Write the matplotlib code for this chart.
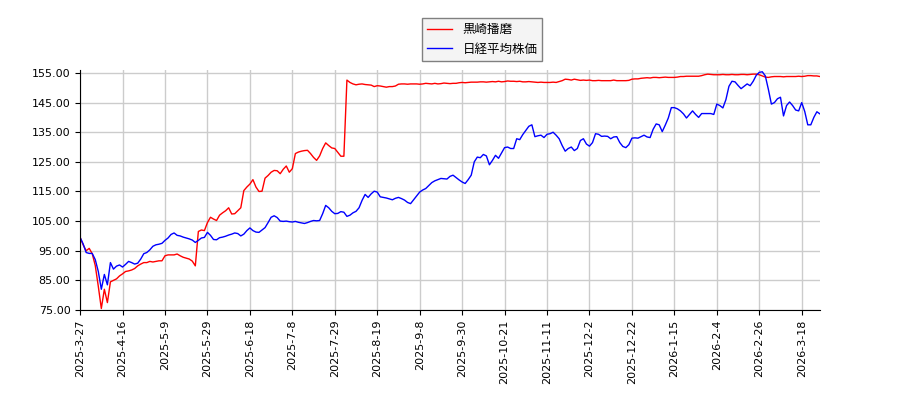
import numpy as np
import matplotlib
matplotlib.use("Agg")
import matplotlib.pyplot as plt

plt.rcParams['font.family'] = ['DejaVu Sans', 'Noto Sans CJK JP']

# 黒崎播磨 (daily, indexed by trading day)
kurosaki = [
    99.5, 97.0, 95.0, 95.8, 94.0, 90.0, 83.0, 75.5, 82.0, 77.5,
    84.5, 85.0, 85.5, 86.5, 87.2, 88.0, 88.2, 88.5, 89.0, 89.9,
    90.5, 91.0, 91.0, 91.4, 91.2, 91.4, 91.6, 91.6, 93.3, 93.6,
    93.6, 93.6, 93.9, 93.3, 92.8, 92.5, 92.2, 91.5, 89.9, 101.5,
    102.0, 101.8, 104.5, 106.3, 105.7, 105.2, 107.0, 107.8, 108.5, 109.5,
    107.4, 107.5, 108.5, 109.5, 115.3, 116.5, 117.5, 119.0, 116.5, 115.0,
    115.1, 119.5, 120.4, 121.5, 122.1, 122.0, 121.0, 122.5, 123.6, 121.5,
    122.7, 127.8, 128.3, 128.6, 128.8, 128.9, 127.8, 126.5, 125.5, 127.0,
    129.5, 131.4, 130.5, 129.7, 129.5, 128.2, 126.9, 126.9, 152.6, 151.8,
    151.3, 151.0, 151.2, 151.3, 151.1, 151.0, 150.9, 150.4, 150.7, 150.6,
    150.4, 150.2, 150.4, 150.4, 150.6, 151.2, 151.3, 151.3, 151.2, 151.3,
    151.3, 151.3, 151.2, 151.3, 151.5, 151.4, 151.3, 151.5, 151.3, 151.4,
    151.6, 151.5, 151.4, 151.5, 151.5, 151.7, 151.8, 151.7, 151.8, 151.9,
    151.9, 151.9, 152.0, 152.0, 151.9, 152.0, 152.1, 152.0, 152.2, 152.0,
    152.1, 152.3, 152.2, 152.2, 152.1, 152.2, 152.0, 152.0, 152.1, 152.0,
    151.9, 151.8, 151.9, 151.8, 151.8, 151.8, 151.9, 151.8, 152.1, 152.4,
    152.9, 152.8, 152.6, 152.9, 152.7, 152.5, 152.6, 152.5, 152.6, 152.4,
    152.4, 152.5, 152.4, 152.4, 152.4, 152.4, 152.6, 152.4, 152.4, 152.4,
    152.4, 152.5, 152.9, 153.0, 153.0, 153.2, 153.3, 153.4, 153.3, 153.5,
    153.5, 153.4, 153.5, 153.6, 153.5, 153.5, 153.5, 153.6, 153.8, 153.8,
    153.9, 153.9, 153.9, 153.9, 153.9, 154.1, 154.4, 154.6, 154.5, 154.4,
    154.4, 154.4, 154.5, 154.4, 154.4, 154.5, 154.4, 154.4, 154.5, 154.5,
    154.4, 154.5, 154.6, 154.6, 154.4, 154.0, 153.6, 153.5, 153.7, 153.8,
    153.8, 153.8, 153.7, 153.8, 153.8, 153.8, 153.8, 153.9, 153.8, 153.9,
    154.1, 154.1, 154.0, 154.0, 153.8,
]

# 日経平均株価
nikkei = [
    99.5, 97.3, 94.4, 94.1, 94.1, 92.0, 88.0, 82.0, 87.0, 83.5,
    91.0, 88.8, 89.8, 90.2, 89.5, 90.4, 91.4, 91.0, 90.5, 90.8,
    92.2, 94.0, 94.4, 95.3, 96.5, 97.0, 97.2, 97.5, 98.5, 99.3,
    100.5, 101.0, 100.2, 100.0, 99.6, 99.3, 99.0, 98.6, 97.8, 98.5,
    99.3, 99.5, 101.2, 100.2, 98.8, 98.7, 99.4, 99.6, 99.9, 100.3,
    100.6, 101.0, 100.8, 100.0, 100.6, 101.8, 102.7, 101.8, 101.3, 101.2,
    102.0, 102.8, 104.5, 106.3, 106.8, 106.2, 105.0, 104.9, 105.0, 104.8,
    104.7, 104.9, 104.6, 104.4, 104.2, 104.5, 104.9, 105.2, 105.1, 105.2,
    107.5, 110.3, 109.5, 108.3, 107.5, 107.6, 108.2, 108.0, 106.6, 107.0,
    107.8, 108.3, 109.5, 112.0, 114.0, 113.0, 114.2, 115.1, 114.8, 113.2,
    113.0, 112.8, 112.5, 112.2, 112.7, 113.0, 112.6, 112.1, 111.3, 110.9,
    112.2, 113.5, 114.8, 115.5, 116.0, 117.0, 118.0, 118.6, 119.0, 119.4,
    119.3, 119.2, 120.1, 120.5, 119.7, 118.9, 118.2, 117.7, 119.0, 120.5,
    125.0, 126.6, 126.4, 127.5, 127.0, 124.0, 125.5, 127.2, 126.2, 128.0,
    129.8, 130.0, 129.5, 129.5, 132.8, 132.5, 134.2, 135.6, 137.0, 137.5,
    133.5, 133.8, 134.0, 133.2, 134.3, 134.5, 135.0, 134.0, 132.8, 130.5,
    128.6, 129.5, 130.0, 128.8, 129.5, 132.2, 132.8, 131.0, 130.3, 131.5,
    134.5, 134.3, 133.6, 133.7, 133.6, 132.8, 133.4, 133.5, 131.5, 130.2,
    129.8, 130.8, 133.0, 133.1, 133.0, 133.5, 134.0, 133.4, 133.2, 136.0,
    137.8, 137.5, 135.2, 137.4, 139.8, 143.3, 143.3, 142.9, 142.2, 141.2,
    139.8, 141.0, 142.2, 141.0, 140.0, 141.3, 141.3, 141.3, 141.3, 141.0,
    144.5, 144.0, 143.2, 146.0, 150.5, 152.2, 152.0, 150.8, 149.7, 150.5,
    151.3, 150.7, 152.2, 154.2, 155.2, 155.4, 154.0, 149.5, 144.5, 145.0,
    146.3, 146.8, 140.5, 144.0, 145.2, 144.0, 142.5, 142.2, 145.0, 142.0,
    137.5, 137.5, 140.0, 141.9, 141.2,
]

# x tick labels, one every 14 trading days
tick_labels = [
    "2025-3-27", "2025-4-16", "2025-5-9", "2025-5-29", "2025-6-18",
    "2025-7-8", "2025-7-29", "2025-8-19", "2025-9-8", "2025-9-30",
    "2025-10-21", "2025-11-11", "2025-12-2", "2025-12-22", "2026-1-15",
    "2026-2-4", "2026-2-26", "2026-3-18",
]
tick_step = 14

fig = plt.figure(figsize=(9, 4), dpi=100)
ax = fig.add_axes([0.089, 0.225, 0.822, 0.6])

x1 = np.arange(len(kurosaki))
x2 = np.arange(len(nikkei))
ax.plot(x1, kurosaki, color='red', lw=1, label='黒崎播磨')
ax.plot(x2, nikkei, color='blue', lw=1, label='日経平均株価')

ax.set_xlim(0, max(len(kurosaki), len(nikkei)) - 1)
ax.set_ylim(75, 156)
ax.set_yticks(np.arange(75, 156, 10))
ax.set_yticklabels([f"{v:.2f}" for v in np.arange(75, 156, 10)], fontsize=8)
ax.set_xticks(np.arange(len(tick_labels)) * tick_step)
ax.set_xticklabels(tick_labels, rotation=90, fontsize=8)

ax.grid(True, color='#cccccc', lw=1)
ax.set_axisbelow(True)
ax.spines['top'].set_visible(False)
ax.spines['right'].set_visible(False)

fig.legend(loc='upper center', bbox_to_anchor=(0.536, 0.97), fontsize=9,
           fancybox=False, edgecolor='gray', facecolor='#f4f4f4', framealpha=1,
           prop={'family': ['Noto Sans CJK JP', 'DejaVu Sans'], 'size': 9})

fig.savefig("out.png", dpi=100)
